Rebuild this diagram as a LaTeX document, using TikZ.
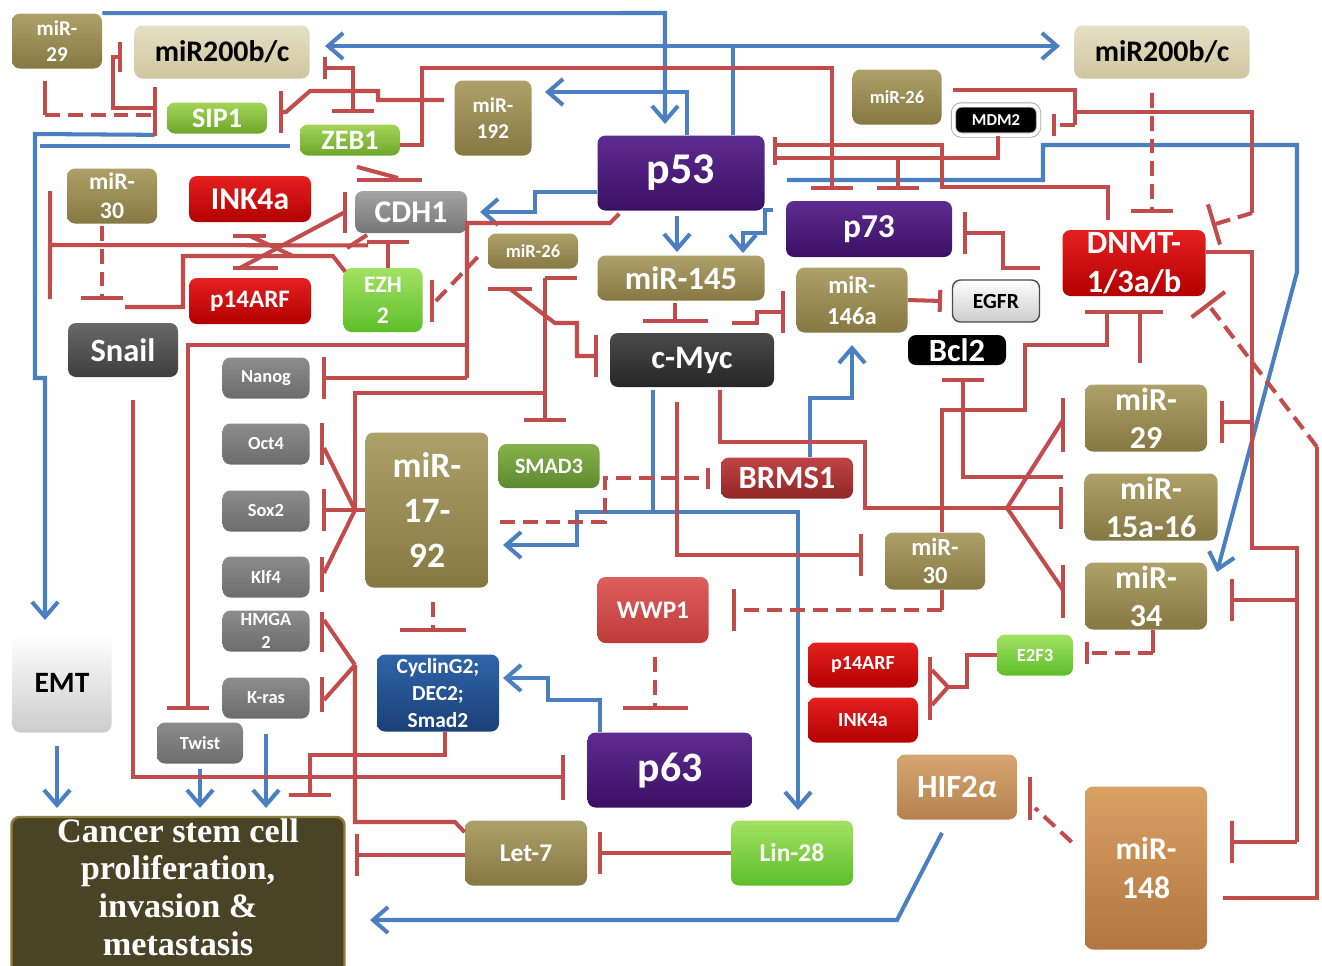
\documentclass[tikz,border=0pt]{standalone}
\usepackage{fontspec}
\setmainfont{Carlito}
\newfontfamily\cscfont{Liberation Serif}
\usetikzlibrary{arrows.meta,calc}

\definecolor{inhred}{HTML}{C24B4B}
\definecolor{actblue}{HTML}{4A7FC1}
\definecolor{oliveT}{HTML}{ADA068}
\definecolor{oliveB}{HTML}{857843}
\definecolor{beigeT}{HTML}{E6DFC4}
\definecolor{beigeB}{HTML}{CFC59F}
\definecolor{leafT}{HTML}{A3D456}
\definecolor{leafB}{HTML}{6DA62B}
\definecolor{limeT}{HTML}{A2E262}
\definecolor{limeB}{HTML}{5DBE2A}
\definecolor{smadT}{HTML}{86B24C}
\definecolor{smadB}{HTML}{5C8A2F}
\definecolor{redT}{HTML}{E52020}
\definecolor{redB}{HTML}{B30000}
\definecolor{brmsT}{HTML}{BE4444}
\definecolor{brmsB}{HTML}{922626}
\definecolor{wwpT}{HTML}{DE5E5E}
\definecolor{wwpB}{HTML}{BE3B3B}
\definecolor{purT}{HTML}{5E2C91}
\definecolor{purB}{HTML}{3A1063}
\definecolor{cdhT}{HTML}{A3A3A3}
\definecolor{cdhB}{HTML}{767676}
\definecolor{snailT}{HTML}{686868}
\definecolor{snailB}{HTML}{3E3E3E}
\definecolor{mycT}{HTML}{4A4A4A}
\definecolor{mycB}{HTML}{262626}
\definecolor{stemT}{HTML}{8C8C8C}
\definecolor{stemB}{HTML}{6C6C6C}
\definecolor{cycT}{HTML}{2F65AA}
\definecolor{cycB}{HTML}{1A4076}
\definecolor{hifT}{HTML}{D6A570}
\definecolor{hifB}{HTML}{B5824E}
\definecolor{woodT}{HTML}{D9A064}
\definecolor{woodB}{HTML}{B27640}
\definecolor{cscfill}{HTML}{4B4326}
\definecolor{cscedge}{HTML}{8C7F40}

\tikzset{
  box/.style={rounded corners=0.16cm, inner sep=0pt, align=center, text=white},
  sz/.style 2 args={minimum width=#1*0.02cm, minimum height=#2*0.02cm},
  fs/.style 2 args={font=\fontsize{#1}{#2}\selectfont\bfseries},
  olivebox/.style={box, top color=oliveT, bottom color=oliveB},
  beigebox/.style={box, top color=beigeT, bottom color=beigeB, text=black},
  leafbox/.style={box, top color=leafT, bottom color=leafB},
  limebox/.style={box, top color=limeT, bottom color=limeB},
  smadbox/.style={box, top color=smadT, bottom color=smadB},
  redbox/.style={box, top color=redT, bottom color=redB},
  brmsbox/.style={box, top color=brmsT, bottom color=brmsB},
  wwpbox/.style={box, top color=wwpT, bottom color=wwpB},
  purbox/.style={box, top color=purT, bottom color=purB},
  cdhbox/.style={box, top color=cdhT, bottom color=cdhB},
  snailbox/.style={box, top color=snailT, bottom color=snailB},
  mycbox/.style={box, top color=mycT, bottom color=mycB},
  stembox/.style={box, top color=stemT, bottom color=stemB, sz={87}{41}, fs={10.5}{13}},
  cycbox/.style={box, top color=cycT, bottom color=cycB},
  hifbox/.style={box, top color=hifT, bottom color=hifB},
  woodbox/.style={box, top color=woodT, bottom color=woodB},
  blackbox/.style={box, fill=black},
  lightbox/.style={box, top color=white, bottom color=black!20, text=black},
  lnk/.style={draw=inhred, line width=2.3pt},
  lnkd/.style={lnk, dash pattern=on 8.5pt off 4.5pt},
  inh/.style={lnk, -{Bar[width=#1]}},
  inh/.default=0.84cm,
  inhd/.style={inh=#1, dash pattern=on 8.5pt off 4.5pt},
  inhd/.default=0.84cm,
  both/.style={lnk, {Bar[width=#1]}-{Bar[width=0.84cm]}},
  both/.default=0.6cm,
  lnkb/.style={draw=actblue, line width=2.3pt},
  act/.style={lnkb, -{Straight Barb[length=0.3cm, width=0.52cm]}}
}

\begin{document}
\begin{tikzpicture}[x=0.02cm, y=-0.02cm]
\useasboundingbox (0,0) rectangle (1322,965);
\fill[white] (0,0) rectangle (1322,965);

% boxes, top row
\node[olivebox, sz={90}{55}, fs={12}{14.5}] (m29a) at (57,41) {miR-\\29};
\node[beigebox, sz={175}{53}, fs={17}{19}] (m200a) at (222,52) {miR200b/c};
\node[leafbox, sz={100}{31}, fs={16}{18}] (sip1) at (217,118) {SIP1};
\node[leafbox, sz={100}{31}, fs={16}{18}] (zeb1) at (350,140) {ZEB1};
\node[olivebox, sz={77}{75}, fs={12}{14.5}] (m192) at (493,118) {miR-\\192};
\node[purbox, sz={167}{75}, fs={25}{28}] (p53) at (681,173) {p53};
\node[olivebox, sz={89}{55}, fs={10.5}{12.5}] (m26a) at (897,97) {miR-26};
\node[blackbox, sz={85}{30}, fs={9.5}{11}, draw=black!35, double=white, double distance=2pt, line width=0.5pt] (mdm2) at (996,120) {MDM2};
\node[beigebox, sz={175}{53}, fs={17}{19}] (m200b) at (1162,52) {miR200b/c};

% boxes, second band
\node[olivebox, sz={90}{55}, fs={13.5}{16.4}] (m30a) at (112,196) {miR-\\30};
\node[redbox, sz={122}{46}, fs={18}{20}] (ink4a) at (250,199) {INK4a};
\node[cdhbox, sz={112}{42}, fs={18}{20}] (cdh1) at (411,212) {CDH1};
\node[olivebox, sz={90}{35}, fs={10.5}{12.5}] (m26b) at (533,251) {miR-26};
\node[olivebox, sz={167}{45}, fs={18.5}{20}] (m145) at (681,278) {miR-145};
\node[purbox, sz={166}{56}, fs={19}{21}] (p73) at (869,229) {p73};
\node[redbox, sz={143}{66}, fs={18.5}{22}] (dnmt) at (1134,263) {DNMT-\\1/3a/b};
\node[redbox, sz={122}{46}, fs={14.3}{16}] (arfa) at (250,301) {p14ARF};
\node[limebox, sz={79}{64}, fs={13.5}{17.6}] (ezh2) at (383,300) {EZH\\2};
\node[olivebox, sz={111}{65}, fs={14}{17.6}] (m146) at (852,300) {miR-\\146a};
\node[lightbox, sz={87}{42}, fs={12.3}{14}, draw=black!70, line width=0.8pt] (egfr) at (996,301) {EGFR};
\node[snailbox, sz={110}{54}, fs={18.5}{20}] (snail) at (123,350) {Snail};
\node[mycbox, sz={164}{54}, fs={18.7}{20}] (cmyc) at (692,360) {c-Myc};
\node[blackbox, sz={98}{30}, fs={18.5}{20}] (bcl2) at (957,350) {Bcl2};

% stemness factors
\node[stembox] (nanog) at (266,378) {Nanog};
\node[stembox] (oct4) at (266,444) {Oct4};
\node[stembox] (sox2) at (266,511) {Sox2};
\node[stembox] (klf4) at (266,577) {Klf4};
\node[stembox] (hmga2) at (266,631) {HMGA\\2};
\node[stembox] (kras) at (266,698) {K-ras};
\node[stembox, sz={86}{41}] (twist) at (200,743) {Twist};

% middle
\node[olivebox, sz={123}{155}, fs={20.3}{25.5}] (m1792) at (427,510) {miR-\\17-\\92};
\node[smadbox, sz={101}{44}, fs={12.5}{14}] (smad3) at (549,466) {SMAD3};
\node[brmsbox, sz={132}{41}, fs={18.5}{20}] (brms1) at (787,478) {BRMS1};
\node[olivebox, sz={122}{67}, fs={18.2}{21.5}] (m29b) at (1146,418) {miR-\\29};
\node[olivebox, sz={133}{67}, fs={18.2}{21.5}] (m15) at (1151,507) {miR-\\15a-16};
\node[olivebox, sz={122}{67}, fs={18.2}{21.5}] (m34) at (1146,596) {miR-\\34};
\node[olivebox, sz={100}{57}, fs={14}{16.4}] (m30b) at (935,561) {miR-\\30};
\node[wwpbox, sz={111}{66}, fs={14.4}{16}] (wwp1) at (653,610) {WWP1};
\node[limebox, sz={76}{41}, fs={10.6}{12}] (e2f3) at (1035,655) {E2F3};
\node[redbox, sz={110}{45}, fs={11.4}{13}] (arfb) at (863,665) {p14ARF};
\node[redbox, sz={110}{45}, fs={11.4}{13}] (ink4b) at (863,720) {INK4a};
\node[cycbox, sz={122}{77}, fs={12.2}{15.3}] (cycg2) at (438,693) {CyclinG2;\\DEC2;\\Smad2};

% bottom
\node[lightbox, sz={99}{99}, fs={16.8}{19}] (emt) at (62,683) {EMT};
\node[purbox, sz={165}{75}, fs={23.8}{26}] (p63) at (670,770) {p63};
\node[hifbox, sz={120}{65}, fs={18.5}{20}] (hif) at (957,787) {HIF2\textit{α}};
\node[woodbox, sz={122}{163}, fs={18}{22}] (m148) at (1146,868) {miR-\\148};
\node[olivebox, sz={122}{65}, fs={14.5}{16}] (let7) at (526,853) {Let-7};
\node[limebox, sz={122}{65}, fs={14.6}{16}] (lin28) at (792,853) {Lin-28};
\node[box, sz={333}{160}, fill=cscfill, draw=cscedge, line width=1.4pt] (csc) at (178,897) {};
\node[text=white, align=center, inner sep=0pt, font=\cscfont\fontsize{19.5}{21.5}\selectfont\bfseries] (csctext) at (178,887) {Cancer stem cell\\proliferation,\\invasion \&\\metastasis};

% activation (blue)
\draw[act] (m29a.north east) -- (665,13) -- (665,124);
\draw[act] (p53.north) ++(52,0) -- (733,46) -- (325,46);
\draw[act] (733,46) -- (1060,46);
\draw[act] (p53.north) ++(6,0) |- (545,92);
\draw[act] (sip1.south west) ++(-12,1) -- (35,134) -- (35,378) -- (45,378) -- (45,620);
\draw[lnkb] (zeb1.west) ++(-10,6) -- (40,146);
\draw[act] (p53.west) ++(0,19) -- (535,192) |- (480,212);
\draw[act] (p53.south) ++(-4,5) -- (677,252);
\draw[act] (p73.west) ++(-13,-19) -- (765,210) -- (765,233) -- (743,233) -- (743,253);
\draw[act] (p53.east) ++(22,7) -- (1043,180) |- (1297,145) -- (1297,272) -- (1217,572);
\draw[act] (cmyc.south) ++(-39,3) -- (653,512) -| (798,810);
\draw[act] (653,512) -- (577,512) |- (503,545);
\draw[act] (brms1.north) ++(23,0) |- (852,398) -- (852,345);
\draw[act] (p63.north) ++(-70,0) -- (600,700) -- (548,700) |- (503,678);
\draw[act] (hif.south) ++(-15,13) -- (897,920) -- (370,920);
\draw[act] (emt.south) ++(-5,13) -- (57,808);
\draw[act] (twist.south) ++(0,5) -- (200,808);
\draw[act] (kras.south) ++(0,15) -- (266,808);

% inhibition (red), top left
\draw[lnk] (m29a.south) ++(-12,12) -- (45,115);
\draw[inhd] (45,115) -- (157,115);
\draw[both] (m200a.west) ++(-12,5) -- (113,57) -- (113,108) -- (157,108);
\draw[both=0.45cm] (m200a.east) ++(13,16) -- (353,68) -- (353,113);
\draw[inh] (m192.west) ++(-10,-18) -- (378,100) -- (378,91) -- (310,91) -- (286,112) -- (279,112);
\draw[inh] (zeb1.east) ++(0,5) -- (422,145) -- (422,68) -- (832,68) -- (832,190);
\draw[lnk] (zeb1.south) ++(7,11) -- (398,178);
\draw[lnk] (357,180) -- (422,180);
\draw[inhd] (m30a.south) ++(-10,2) -- (102,300);
\draw[lnk, -{Bar[width=2.16cm]}] (cdh1.south) ++(-43,12) -- (48,245);
\draw[inh] (ezh2.north) ++(5,0) -- (388,240);
\draw[lnk] (ezh2.north west) ++(2,4) -- (333,256) -- (183,256) -- (183,307) -- (125,307);
\draw[lnk] (293,256) -- (250,236);
\draw[lnk] (233,236) -- (266,236);
\draw[lnk] (233,268) -- (278,268);
\draw[lnk] (240,268) -- (345,212);
\draw[lnk] (345,192) -- (345,233);
\draw[lnk] (347,248) -- (367,235);

% p53 and c-Myc region
\draw[lnk] (p53.south west) ++(22,3) -- (610,223) -- (467,223) -- (467,378);
\draw[inh] (467,378) -- (322,378);
\draw[inh] (467,345) -- (188,345) -- (188,710);
\draw[lnk] (545,393) -- (355,393) -- (355,510) -- (m1792.west);
\draw[lnk] (355,510) -- (324,448);
\draw[inh] (355,510) -- (322,510);
\draw[lnk] (355,510) -- (324,573);
\draw[lnk] (322,423) -- (322,465);
\draw[lnk] (322,557) -- (322,592);
\draw[inh] (545,278) -- (545,422);
\draw[lnk] (545,278) -- (577,278);
\draw[lnk] (488,289) -- (532,289);
\draw[inh] (510,289) -- (555,323) -- (577,323) -- (577,356) -- (598,356);
\draw[lnkd] (m26b.west) ++(-10,6) -- (434,303);
\draw[lnk] (432,280) -- (432,322);
\draw[inh=1.3cm] (m145.south) ++(-6,2) -- (675,323);
\draw[inh] (732,323) -- (757,323) -- (757,312) -- (785,312);
\draw[inh=0.44cm] (m146.east) -- (942,301);
\draw[lnk] (cmyc.south) ++(28,3) -- (720,442) -- (865,442) -- (865,508) -- (1007,508);
\draw[inh] (1007,508) -- (1063,508);
\draw[lnk] (1007,508) -- (1063,420);
\draw[lnk] (1063,398) -- (1063,452);
\draw[lnk] (1007,508) -- (1063,590);
\draw[lnk] (1063,565) -- (1063,618);
\draw[inh] (cmyc.south) ++(-15,15) -- (677,555) -- (863,555);
\draw[inhd=0.42cm] (m1792.east) ++(11,12) -- (605,522) -- (605,478) -- (710,478);
\draw[inh] (1063,477) -- (963,477) -- (963,378);

% DNMT region
\draw[lnk] (m30b.north) ++(7,0) -- (942,410) -- (1025,410) -- (1025,345) -- (1107,345) -- (1107,312);
\draw[lnk] (1085,312) -- (1163,312);
\draw[lnk] (1140,312) -- (1140,363);
\draw[inh] (dnmt.west) ++(-22,5) -- (1003,268) -- (1003,233) -- (963,233);
\draw[lnk] (dnmt.east) ++(0,-11) -- (1252,252) -- (1252,548) -- (1297,548) -- (1297,842);
\draw[inh] (1252,422) -- (1220,422);
\draw[inh] (1297,600) -- (1230,600);
\draw[inh] (1297,842) -- (1230,842);
\draw[lnk] (m148.east) ++(16,30) -- (1317,898) -- (1317,447);
\draw[inhd] (1317,447) -- (1207,303);
\draw[lnk] (m26a.east) ++(11,-7) -- (1075,90) -- (1075,125);
\draw[inhd=0.44cm] (1075,125) -- (1052,125);
\draw[lnk] (1075,112) -- (1252,112) -- (1252,213);
\draw[inhd] (1252,213) -- (1212,225);
\draw[inhd] (m200b.south) ++(-10,14) -- (1152,213);
\draw[lnk] (775,137) -- (775,165);
\draw[lnk] (775,145) -- (942,145) -- (942,187) -- (1108,187) -- (1108,220);
\draw[lnk] (775,158) -- (998,158) -- (998,136);
\draw[inh] (898,158) -- (898,190);

% lower part
\draw[lnk] (m30b.south) ++(7,0) -- (942,610);
\draw[inhd] (942,610) -- (732,610);
\draw[inhd=1.3cm] (wwp1.south) ++(2,14) -- (655,710);
\draw[lnk] (m34.south) ++(7,0) -- (1153,653);
\draw[inhd=0.44cm] (1153,653) -- (1085,653);
\draw[lnk] (e2f3.west) -- (967,655) -- (967,687) -- (948,687);
\draw[lnk] (948,687) -- (932,670);
\draw[lnk] (948,687) -- (932,705);
\draw[lnk] (930,657) -- (930,720);
\draw[lnkd] (m148.west) ++(-13,-26) -- (1035,808);
\draw[lnk] (1030,777) -- (1030,820);
\draw[inh] (lin28.west) -- (598,853);
\draw[lnk] (let7.north west) ++(0,12) -- (455,822) -- (355,822) -- (355,665);
\draw[lnk] (355,665) -- (324,620);
\draw[lnk] (355,665) -- (324,700);
\draw[lnk] (322,612) -- (322,652);
\draw[lnk] (322,677) -- (322,712);
\draw[inh] (let7.west) ++(0,2) -- (355,855);
\draw[inh] (cycg2.south) ++(7,0) -- (445,755) -- (310,755) -- (310,797);
\draw[inh=0.9cm] (snail.south) ++(10,23) -- (133,777) -- (565,777);
\draw[inhd=1.32cm] (m1792.south) ++(6,14) -- (433,632);
\end{tikzpicture}
\end{document}
